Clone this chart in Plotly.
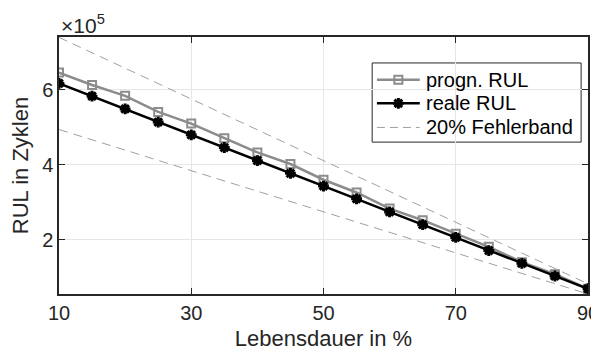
import plotly.graph_objects as go

lebensdauer = [10, 15, 20, 25, 30, 35, 40, 45, 50, 55, 60, 65, 70, 75, 80, 85, 90]
progn_rul = [6.46e5, 6.13e5, 5.84e5, 5.41e5, 5.10e5, 4.71e5, 4.33e5, 4.02e5, 3.60e5,
             3.26e5, 2.83e5, 2.52e5, 2.16e5, 1.81e5, 1.40e5, 1.08e5, 0.69e5]
reale_rul = [6.17e5, 5.83e5, 5.49e5, 5.14e5, 4.80e5, 4.46e5, 4.11e5, 3.77e5, 3.43e5,
             3.09e5, 2.74e5, 2.40e5, 2.06e5, 1.71e5, 1.37e5, 1.03e5, 0.69e5]
band_x = [10, 90]
band_upper = [7.40e5, 0.82e5]
band_lower = [4.94e5, 0.55e5]
x_ticks = [10, 30, 50, 70, 90]
y_ticks = [2e5, 4e5, 6e5]
y_ticktext = ["2", "4", "6"]
legend_names = ["progn. RUL", "reale RUL", "20% Fehlerband"]

font = "Liberation Sans, Arial, sans-serif"
ink = "#262626"
c_prog = "#8c8c8c"
c_band = "#a0a0a0"
dash = "9px,6px"

prog_marker = dict(symbol="square-open", size=8, color=c_prog, line=dict(width=2, color=c_prog))
real_marker = dict(symbol="asterisk-open", size=9, color="black", line=dict(width=3, color="black"))

fig = go.Figure()
fig.add_trace(go.Scatter(x=band_x, y=band_upper, mode="lines", showlegend=False,
                         line=dict(color=c_band, width=1, dash=dash)))
fig.add_trace(go.Scatter(x=band_x, y=band_lower, mode="lines", showlegend=False,
                         line=dict(color=c_band, width=1, dash=dash)))
fig.add_trace(go.Scatter(x=lebensdauer, y=progn_rul, mode="lines+markers", showlegend=False,
                         line=dict(color=c_prog, width=2.5), marker=prog_marker))
fig.add_trace(go.Scatter(x=lebensdauer, y=reale_rul, mode="lines+markers", showlegend=False,
                         line=dict(color="black", width=2.5), marker=real_marker))

# custom legend (overlay axes spanning the plot area, range 0..1)
lx0, lx1, lxm, ltx = 0.601, 0.682, 0.6415, 0.690
rows = [0.834, 0.742, 0.648]
fig.add_shape(type="rect", xref="paper", yref="paper", x0=0.592, x1=0.987, y0=0.591, y1=0.899,
              fillcolor="white", line=dict(color=ink, width=1), layer="between")
fig.add_trace(go.Scatter(x=[lx0, lx1], y=[rows[0]] * 2, xaxis="x2", yaxis="y2", mode="lines",
                         showlegend=False, line=dict(color=c_prog, width=2.5), hoverinfo="skip"))
fig.add_trace(go.Scatter(x=[lxm], y=[rows[0]], xaxis="x2", yaxis="y2", mode="markers",
                         showlegend=False, marker=prog_marker, hoverinfo="skip"))
fig.add_trace(go.Scatter(x=[lx0, lx1], y=[rows[1]] * 2, xaxis="x2", yaxis="y2", mode="lines",
                         showlegend=False, line=dict(color="black", width=2.5), hoverinfo="skip"))
fig.add_trace(go.Scatter(x=[lxm], y=[rows[1]], xaxis="x2", yaxis="y2", mode="markers",
                         showlegend=False, marker=real_marker, hoverinfo="skip"))
fig.add_trace(go.Scatter(x=[lx0, lx1], y=[rows[2]] * 2, xaxis="x2", yaxis="y2", mode="lines",
                         showlegend=False, line=dict(color=c_band, width=1, dash="8px,5px"), hoverinfo="skip"))
for name, ry in zip(legend_names, rows):
    fig.add_annotation(xref="paper", yref="paper", x=ltx, y=ry, xanchor="left", yanchor="middle",
                       text=name, showarrow=False, font=dict(family=font, size=20, color="black"))

axis_common = dict(showline=True, linecolor=ink, linewidth=1.5, mirror="ticks",
                   ticks="inside", ticklen=6, tickcolor=ink, showgrid=True,
                   gridcolor="#e6e6e6", gridwidth=1, zeroline=False, automargin=False,
                   ticklabeloverflow="allow",
                   tickfont=dict(family=font, size=20, color=ink))
fig.update_xaxes(range=[10, 90], tickvals=x_ticks, **axis_common,
                 title=dict(text="Lebensdauer in %", font=dict(family=font, size=22, color=ink), standoff=10))
fig.update_yaxes(range=[0.55e5, 7.41e5], tickvals=y_ticks, ticktext=y_ticktext, **axis_common,
                 title=dict(text="RUL in Zyklen", font=dict(family=font, size=22, color=ink), standoff=8))
fig.add_annotation(xref="paper", yref="paper", x=0.0, y=1.0, xanchor="left", yanchor="bottom",
                   text="×10<sup>5</sup>", showarrow=False, xshift=0, yshift=-2,
                   font=dict(family=font, size=21, color=ink))
# page body has an 8px default margin, so the figure is sized to fit the window
fig.update_layout(width=591, height=343, margin=dict(l=51, r=11, t=29, b=57),
                  plot_bgcolor="white", paper_bgcolor="white", showlegend=False,
                  xaxis2=dict(overlaying="x", range=[0, 1], visible=False, fixedrange=True),
                  yaxis2=dict(overlaying="y", range=[0, 1], visible=False, fixedrange=True))
fig.write_html("out.html")
